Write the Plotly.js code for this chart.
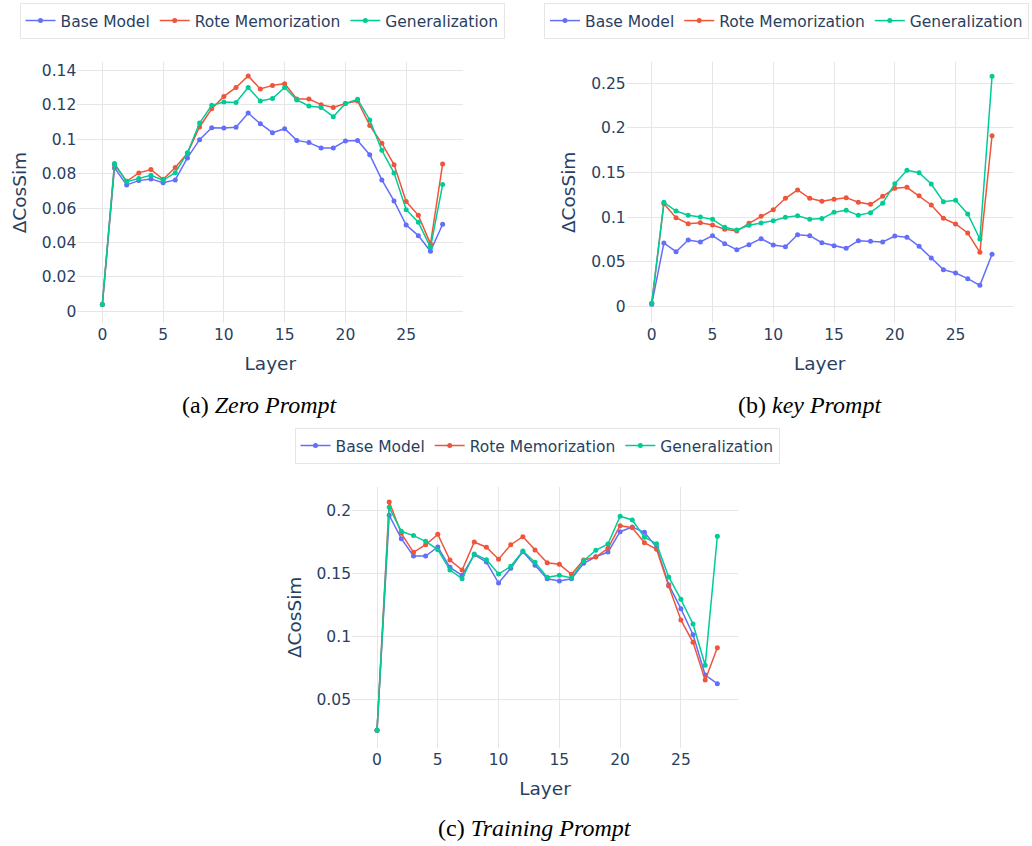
<!DOCTYPE html>
<html>
<head>
<meta charset="utf-8">
<script src="https://cdn.plot.ly/plotly-3.0.1.min.js"></script>
<style>
html, body { margin: 0; padding: 0; background: #ffffff; }
#chart { width: 1032px; height: 846px; }
</style>
</head>
<body>
<div id="chart"></div>
<script>
// ---- data ----
const layers = [0, 1, 2, 3, 4, 5, 6, 7, 8, 9, 10, 11, 12, 13, 14, 15, 16, 17, 18, 19, 20, 21, 22, 23, 24, 25, 26, 27, 28];
const seriesNames = ['Base Model', 'Rote Memorization', 'Generalization'];
const seriesColors = ['#636EFA', '#EF553B', '#00CC96'];
const xTickVals = [0, 5, 10, 15, 20, 25];
const xTitle = 'Layer';
const yTitle = 'ΔCosSim';
const captions = ['(a) <i>Zero Prompt</i>', '(b) <i>key Prompt</i>', '(c) <i>Training Prompt</i>'];

// (a) Zero Prompt
const zeroBase = [0.0040, 0.0834, 0.0735, 0.0760, 0.0770, 0.0748, 0.0764, 0.0892, 0.0998, 0.1068, 0.1066, 0.1070, 0.1153, 0.1091, 0.1039, 0.1062, 0.0994, 0.0981, 0.0950, 0.0950, 0.0991, 0.0994, 0.0911, 0.0764, 0.0642, 0.0502, 0.0440, 0.0349, 0.0506];
const zeroRote = [0.0040, 0.0853, 0.0756, 0.0805, 0.0824, 0.0768, 0.0836, 0.0919, 0.1072, 0.1178, 0.1250, 0.1302, 0.1369, 0.1293, 0.1314, 0.1324, 0.1235, 0.1235, 0.1202, 0.1186, 0.1209, 0.1223, 0.1081, 0.0977, 0.0853, 0.0638, 0.0558, 0.0392, 0.0857];
const zeroGen  = [0.0040, 0.0860, 0.0754, 0.0772, 0.0791, 0.0762, 0.0806, 0.0922, 0.1095, 0.1198, 0.1217, 0.1215, 0.1302, 0.1223, 0.1238, 0.1302, 0.1229, 0.1194, 0.1186, 0.1132, 0.1209, 0.1233, 0.1113, 0.0936, 0.0805, 0.0591, 0.0518, 0.0372, 0.0737];

// (b) key Prompt
const keyBase = [0.0022, 0.0710, 0.0612, 0.0743, 0.0721, 0.0792, 0.0702, 0.0635, 0.0691, 0.0758, 0.0687, 0.0668, 0.0803, 0.0792, 0.0713, 0.0680, 0.0650, 0.0736, 0.0728, 0.0721, 0.0788, 0.0774, 0.0672, 0.0541, 0.0411, 0.0373, 0.0310, 0.0235, 0.0583];
const keyRote = [0.0034, 0.1150, 0.0993, 0.0926, 0.0937, 0.0911, 0.0863, 0.0844, 0.0930, 0.1009, 0.1083, 0.1211, 0.1304, 0.1211, 0.1177, 0.1200, 0.1218, 0.1166, 0.1143, 0.1233, 0.1323, 0.1334, 0.1240, 0.1136, 0.0986, 0.0923, 0.0822, 0.0605, 0.1913];
const keyGen  = [0.0034, 0.1166, 0.1068, 0.1020, 0.1001, 0.0975, 0.0886, 0.0855, 0.0908, 0.0934, 0.0960, 0.0998, 0.1016, 0.0975, 0.0983, 0.1054, 0.1076, 0.1020, 0.1050, 0.1155, 0.1375, 0.1525, 0.1498, 0.1371, 0.1173, 0.1188, 0.1035, 0.0755, 0.2578];

// (c) Training Prompt
const trainBase = [0.0258, 0.1959, 0.1774, 0.1637, 0.1637, 0.1708, 0.1547, 0.1484, 0.1647, 0.1589, 0.1423, 0.1539, 0.1671, 0.1563, 0.1457, 0.1439, 0.1457, 0.1579, 0.1631, 0.1668, 0.1829, 0.1866, 0.1824, 0.1706, 0.1410, 0.1220, 0.1014, 0.0695, 0.0627];
const trainRote = [0.0258, 0.2064, 0.1816, 0.1666, 0.1726, 0.1808, 0.1605, 0.1526, 0.1748, 0.1706, 0.1611, 0.1726, 0.1790, 0.1684, 0.1584, 0.1571, 0.1492, 0.1605, 0.1629, 0.1698, 0.1877, 0.1861, 0.1742, 0.1690, 0.1400, 0.1131, 0.0954, 0.0656, 0.0911];
const trainGen  = [0.0258, 0.2022, 0.1832, 0.1798, 0.1753, 0.1687, 0.1526, 0.1457, 0.1653, 0.1608, 0.1494, 0.1555, 0.1676, 0.1587, 0.1468, 0.1484, 0.1463, 0.1600, 0.1682, 0.1732, 0.1951, 0.1922, 0.1785, 0.1734, 0.1471, 0.1294, 0.1099, 0.0772, 0.1793];

// ---- build ----
const W = 1032, H = 846;
const textColor = '#2a3f5f';
const gridColor = '#E6E6E6';
const baseFont = { family: 'DejaVu Sans', size: 15.5, color: textColor };

const panels = [
  { series: [zeroBase, zeroRote, zeroGen], xa: 'x', ya: 'y', legend: 'legend' },
  { series: [keyBase, keyRote, keyGen], xa: 'x2', ya: 'y2', legend: 'legend2' },
  { series: [trainBase, trainRote, trainGen], xa: 'x3', ya: 'y3', legend: 'legend3' }
];

const traces = [];
panels.forEach(function (p) {
  p.series.forEach(function (vals, i) {
    traces.push({
      type: 'scatter',
      mode: 'lines+markers',
      x: layers,
      y: vals,
      name: seriesNames[i],
      xaxis: p.xa,
      yaxis: p.ya,
      legend: p.legend,
      line: { color: seriesColors[i], width: 1.5 },
      marker: { color: seriesColors[i], size: 5 }
    });
  });
});

function px(x) { return x / W; }
function py(y) { return 1 - y / H; }

function xAxis(x0, x1, anchor) {
  return {
    domain: [px(x0), px(x1)],
    anchor: anchor,
    range: [-2.06, 29.7],
    tickmode: 'array',
    tickvals: xTickVals,
    showgrid: true,
    gridcolor: gridColor,
    gridwidth: 1,
    zeroline: false,
    showline: false,
    ticks: '',
    tickfont: baseFont,
    title: { text: xTitle, font: { family: 'DejaVu Sans', size: 18.5, color: textColor }, standoff: 14 }
  };
}
function yAxis(y0, y1, range, dtick, anchor) {
  return {
    domain: [py(y1), py(y0)],
    anchor: anchor,
    range: range,
    dtick: dtick,
    tick0: 0,
    showgrid: true,
    gridcolor: gridColor,
    gridwidth: 1,
    zeroline: false,
    showline: false,
    ticks: '',
    tickfont: baseFont,
    title: { text: yTitle, font: { family: 'DejaVu Sans', size: 18.5, color: textColor }, standoff: 10 }
  };
}
function legendAt(cx, topY, anchor) {
  return {
    orientation: 'h',
    x: px(cx),
    xanchor: anchor || 'center',
    y: py(topY),
    yanchor: 'top',
    bgcolor: '#ffffff',
    bordercolor: gridColor,
    borderwidth: 1,
    font: baseFont,
    itemwidth: 30
  };
}

const captionFont = { family: 'Liberation Serif', size: 24, color: '#000000' };

const layout = {
  width: W,
  height: H,
  margin: { l: 0, r: 0, t: 0, b: 0 },
  paper_bgcolor: '#ffffff',
  plot_bgcolor: '#ffffff',
  font: baseFont,
  showlegend: true,
  xaxis: xAxis(77.3, 463.3, 'y'),
  yaxis: yAxis(62, 323.3, [-0.0070, 0.1450], 0.02, 'x'),
  xaxis2: xAxis(626.7, 1012.7, 'y2'),
  yaxis2: yAxis(61.7, 323, [-0.0187, 0.2742], 0.05, 'x2'),
  xaxis3: xAxis(352, 738, 'y3'),
  yaxis3: yAxis(486.7, 748, [0.0118, 0.2185], 0.05, 'x3'),
  legend: legendAt(262, 3),
  legend2: legendAt(1029, 3, 'right'),
  legend3: legendAt(537, 428),
  annotations: [
    { text: captions[0], x: px(260), y: py(405), xref: 'paper', yref: 'paper', xanchor: 'center', yanchor: 'middle', showarrow: false, font: captionFont },
    { text: captions[1], x: px(810), y: py(405), xref: 'paper', yref: 'paper', xanchor: 'center', yanchor: 'middle', showarrow: false, font: captionFont },
    { text: captions[2], x: px(535), y: py(828), xref: 'paper', yref: 'paper', xanchor: 'center', yanchor: 'middle', showarrow: false, font: captionFont }
  ]
};

Plotly.newPlot('chart', traces, layout, { displayModeBar: false, staticPlot: true });
</script>
</body>
</html>
